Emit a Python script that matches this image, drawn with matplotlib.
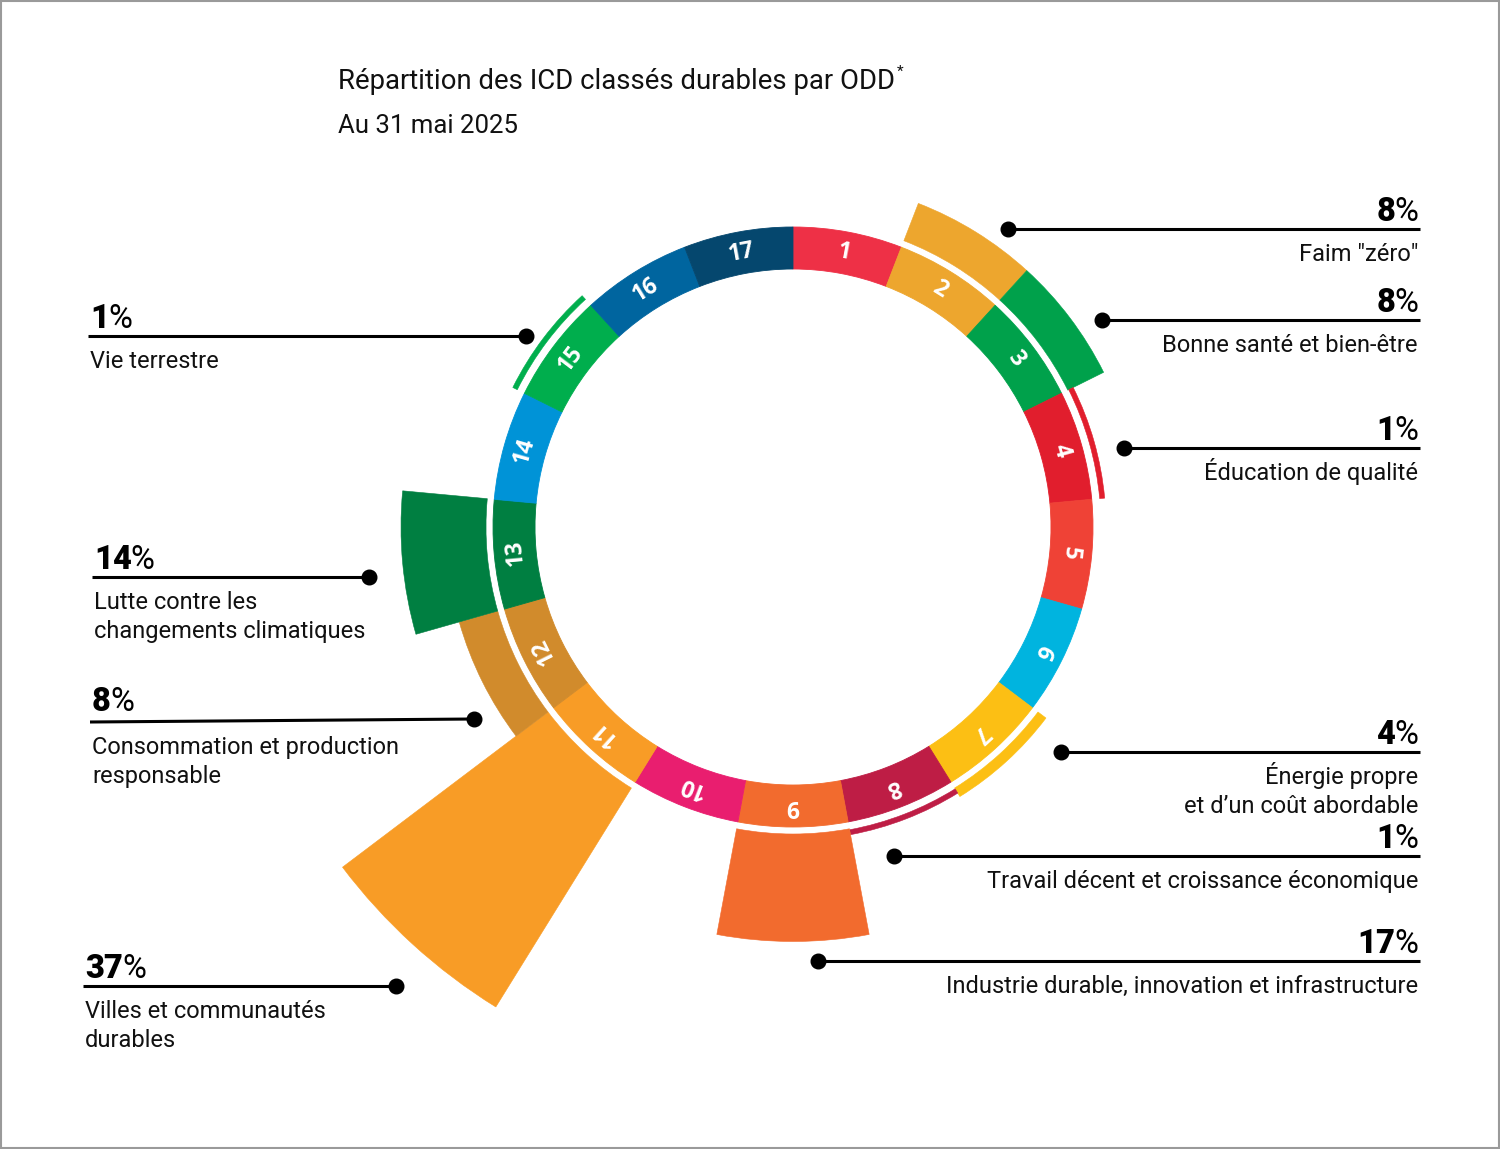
import matplotlib
matplotlib.use("Agg")
import matplotlib.pyplot as plt
import numpy as np
from matplotlib.patches import Rectangle

# ---------------- data ----------------
sdg_numbers = list(range(1, 18))
sdg_colors = ["#EE3046", "#EDA62E", "#00A14B", "#E11E2D", "#EF4236", "#00B4DF",
              "#FCBF14", "#BE1D45", "#F26B2E", "#E91E6F", "#F89C26", "#D18B2C",
              "#007F41", "#0093D7", "#00AE4D", "#00659F", "#05476E"]

bar_sdgs = [2, 3, 4, 7, 8, 9, 11, 12, 13, 15]
bar_pcts = [8, 8, 1, 4, 1, 17, 37, 8, 14, 1]
bar_labels = ['Faim "zéro"',
              "Bonne santé et bien-être",
              "Éducation de qualité",
              "Énergie propre\net d’un coût abordable",
              "Travail décent et croissance économique",
              "Industrie durable, innovation et infrastructure",
              "Villes et communautés\ndurables",
              "Consommation et production\nresponsable",
              "Lutte contre les\nchangements climatiques",
              "Vie terrestre"]

title_text = "Répartition des ICD classés durables par ODD"
subtitle_text = "Au 31 mai 2025"

# ---------------- layout (pixels) ----------------
W, H = 1500, 1149
CX, CY = 793, 527
RING_IN, RING_OUT = 258, 300
BAR_BASE = 307
# label layout: side, dot (x, y), far end x, far end y
label_layout = {
    2:  ("right", 1008, 229, 1420, 229),
    3:  ("right", 1102, 320, 1420, 320),
    4:  ("right", 1124, 448, 1420, 448),
    7:  ("right", 1061, 752, 1420, 752),
    8:  ("right", 894, 856, 1420, 856),
    9:  ("right", 818, 961, 1420, 961),
    11: ("left", 396, 986, 83, 986),
    12: ("left", 474, 719, 90, 722),
    13: ("left", 369, 577, 92, 577),
    15: ("left", 526, 336, 88, 336),
}
FONT = "Roboto"
PCT_SIZE = 23.5
DESC_SIZE = 17

fig = plt.figure(figsize=(W / 100, H / 100), dpi=100)
fig.patch.set_facecolor("white")

# overlay axes in pixel coordinates
ax = fig.add_axes([0, 0, 1, 1], zorder=2)
ax.set_xlim(0, W)
ax.set_ylim(H, 0)
ax.axis("off")
ax.patch.set_alpha(0)

# polar axes for the ring
R = 640
pax = fig.add_axes([(CX - R) / W, (H - CY - R) / H, 2 * R / W, 2 * R / H],
                   projection="polar", zorder=1)
pax.set_theta_zero_location("N")
pax.set_theta_direction(-1)
pax.set_ylim(0, R)
pax.axis("off")

step = 360 / len(sdg_numbers)
centers = np.deg2rad((np.array(sdg_numbers) - 0.5) * step)

pax.bar(centers, RING_OUT - RING_IN, width=np.deg2rad(step), bottom=RING_IN,
        color=sdg_colors, edgecolor=sdg_colors, linewidth=0.6, align="center")

for k, th in zip(sdg_numbers, centers):
    deg = np.rad2deg(th)
    pax.text(th, (RING_IN + RING_OUT) / 2, str(k), rotation=-deg,
             rotation_mode="anchor", ha="center", va="center",
             color="white", fontsize=16.5, fontweight="bold", family="Open Sans")

# outer bars
for s, p in zip(bar_sdgs, bar_pcts):
    outer = 287 + 7.5 * p
    if outer - BAR_BASE < 6:
        bottom, height = BAR_BASE + 1, 5
    else:
        bottom, height = BAR_BASE, outer - BAR_BASE
    c = sdg_colors[s - 1]
    pax.bar(centers[s - 1], height, width=np.deg2rad(step), bottom=bottom,
            color=c, edgecolor=c, linewidth=0.4, align="center")

fig.canvas.draw()
renderer = fig.canvas.get_renderer()


def width_of(t):
    return t.get_window_extent(renderer).width


# labels
for s, p, lab in zip(bar_sdgs, bar_pcts, bar_labels):
    side, dx, dy, fx, fy = label_layout[s]
    ax.plot([dx, fx], [dy, fy], color="black", lw=2.2, solid_capstyle="butt")
    ax.plot([dx], [dy], "o", color="black", ms=10.5)
    ybase = min(dy, fy) - 8
    lines = lab.split("\n")
    if side == "right":
        xr = 1418
        tp = ax.text(xr, ybase, "%", ha="right", va="baseline", fontsize=PCT_SIZE,
                     fontweight="normal", family=FONT, color="black")
        wp = width_of(tp)
        ax.text(xr - wp + 1, ybase, str(p), ha="right", va="baseline",
                fontsize=PCT_SIZE, fontweight="heavy", family=FONT, color="black")
        for i, ln in enumerate(lines):
            ax.text(xr, fy + 32 + 29 * i, ln, ha="right", va="baseline",
                    fontsize=DESC_SIZE, family=FONT, color="#111111")
    else:
        xl = fx + 2
        tn = ax.text(xl, ybase, str(p), ha="left", va="baseline", fontsize=PCT_SIZE,
                     fontweight="heavy", family=FONT, color="black")
        wn = width_of(tn)
        ax.text(xl + wn - 1, ybase, "%", ha="left", va="baseline",
                fontsize=PCT_SIZE, fontweight="normal", family=FONT, color="black")
        for i, ln in enumerate(lines):
            ax.text(xl, fy + 32 + 29 * i, ln, ha="left", va="baseline",
                    fontsize=DESC_SIZE, family=FONT, color="#111111")

# title
tt = ax.text(338, 89, title_text, ha="left", va="baseline", fontsize=19.8,
             family=FONT, color="#111111")
wt = width_of(tt)
ax.text(338 + wt + 2, 76, "*", ha="left", va="baseline", fontsize=11,
        family=FONT, color="#111111")
ax.text(338, 133, subtitle_text, ha="left", va="baseline", fontsize=18.5,
        family=FONT, color="#111111")

# frame
fig.patches.append(Rectangle((0.0005, 0.0007), 0.999, 0.9986, transform=fig.transFigure,
                             fill=False, edgecolor="#9a9a9a", lw=1.5))

fig.savefig("out.png", dpi=100, facecolor="white")
